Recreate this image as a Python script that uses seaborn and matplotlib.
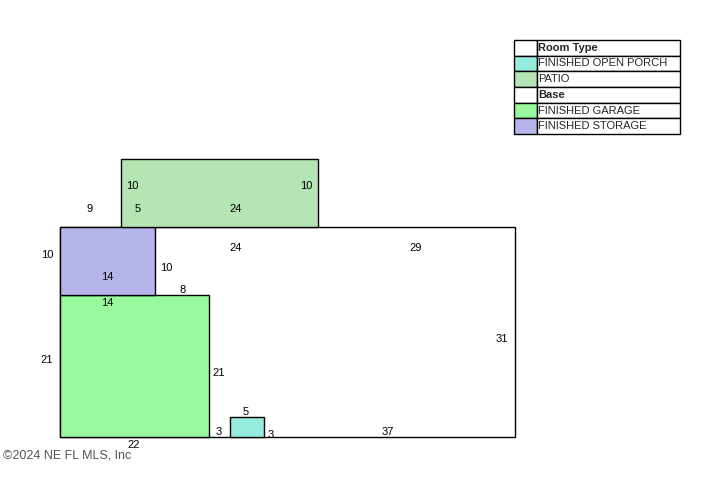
import matplotlib
matplotlib.use("Agg")
from matplotlib import pyplot as plt
import seaborn as sns

# rooms in feet, measured from the lower left corner of the base
room_names = ["Base", "FINISHED GARAGE", "FINISHED STORAGE", "PATIO", "FINISHED OPEN PORCH"]
room_left = [0, 0, 0, 9, 25]
room_bottom = [0, 0, 21, 31, 0]
room_width = [67, 22, 14, 29, 5]
room_depth = [31, 21, 10, 10, 3]
room_colors = ["#FFFFFF", "#99F99F", "#B5B5EB", "#B5E5B5", "#96EBDF"]

dim_text = ["10", "10", "9", "5", "24", "24", "29", "10", "10", "14",
            "8", "14", "31", "21", "21", "5", "3", "3", "37", "22"]
dim_x = [10.6, 36.2, 4.4, 11.5, 25.8, 25.8, 52.3, -1.8, 15.6, 6.9,
         18.0, 6.9, 65.0, -1.9, 23.4, 27.4, 23.3, 31.0, 48.2, 10.9]
dim_y = [37.0, 37.0, 33.7, 33.7, 33.7, 27.9, 27.9, 26.9, 25.0, 23.6,
         21.7, 19.8, 14.5, 11.4, 9.5, 3.7, 0.7, 0.3, 0.7, -1.2]

legend_labels = ["Room Type", "FINISHED OPEN PORCH", "PATIO", "Base", "FINISHED GARAGE", "FINISHED STORAGE"]
legend_colors = ["#FFFFFF", "#96EBDF", "#B5E5B5", "#FFFFFF", "#99F99F", "#B5B5EB"]
legend_bold = ["Room Type", "Base"]

sns.set_theme(style="white")
plt.rcParams["font.family"] = ["Liberation Sans", "DejaVu Sans"]

fig = plt.figure(figsize=(7.21, 4.78), dpi=100)
ax = fig.add_axes([0, 0, 1, 1])

px_x = 455 / 67
px_y = 210 / 31
ax.set_xlim(-60 / px_x, 661 / px_x)
ax.set_ylim(-41 / px_y, 437 / px_y)
ax.axis("off")

for i in range(len(room_names)):
    ax.bar(room_left[i], room_depth[i], width=room_width[i], bottom=room_bottom[i], align="edge",
           color=room_colors[i], edgecolor="black", linewidth=1.0, zorder=i + 1)

for t, x, y in zip(dim_text, dim_x, dim_y):
    ax.text(x, y, t, ha="center", va="center", fontsize=8, color="black", zorder=10)

fig.text(3 / 721, 1 - 456 / 478, "©2024 NE FL MLS, Inc", ha="left", va="center",
         fontsize=9, color="#555555")

# legend is a small two column table
legend_ax = fig.add_axes([514 / 721, 1 - 134 / 478, 166 / 721, 94 / 478])
legend_ax.axis("off")
table = legend_ax.table(cellText=[["", t] for t in legend_labels],
                        cellColours=[[c, "white"] for c in legend_colors],
                        colWidths=[23 / 166, 143 / 166],
                        cellLoc="left", bbox=[0, 0, 1, 1])
table.auto_set_font_size(False)
for (row, col), cell in table.get_celld().items():
    cell.set_linewidth(1.0)
    cell.set_edgecolor("black")
    cell.PAD = 0.01
    txt = cell.get_text()
    txt.set_fontsize(8)
    if txt.get_text() in legend_bold:
        txt.set_fontweight("bold")

fig.savefig("out.png", dpi=100)
